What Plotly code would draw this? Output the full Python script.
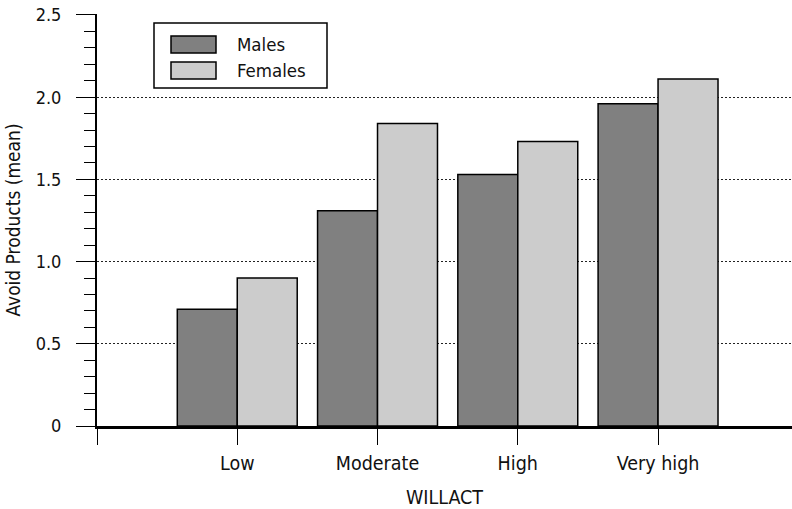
import plotly.graph_objects as go

# ---- data ----
categories = ["Low", "Moderate", "High", "Very high"]
series_names = ["Males", "Females"]
males = [0.71, 1.31, 1.53, 1.96]
females = [0.90, 1.84, 1.73, 2.11]
y_tickvals = [0, 0.5, 1.0, 1.5, 2.0, 2.5]
y_ticktext = ["0", "0.5", "1.0", "1.5", "2.0", "2.5"]
x_title = "WILLACT"
y_title = "Avoid Products (mean)"

# ---- style ----
colors = ["#808080", "#cccccc"]
FONT = "Liberation Sans Narrow, Arial Narrow, DejaVu Sans Condensed, sans-serif"
W, H = 792, 509
# pixel plot box: x 97..792, y 14..426
L, R = 97, 0
T = 14
B = H - 426
PW, PH = W - L - R, H - T - B


def px_x(px):
    return (px - L) / PW


def px_y(py):
    return (H - B - py) / PH


x_pos = list(range(len(categories)))

fig = go.Figure()
for name, vals, col in zip(series_names, [males, females], colors):
    fig.add_trace(go.Bar(
        x=x_pos, y=vals, name=name,
        marker=dict(color=col, line=dict(color="black", width=1.5)),
        showlegend=False,
    ))

fig.update_layout(
    width=W, height=H,
    margin=dict(l=L, r=R, t=T, b=B, autoexpand=False),
    paper_bgcolor="white", plot_bgcolor="white",
    barmode="group", bargap=0.145, bargroupgap=0,
    font=dict(family=FONT, size=19, color="#111111"),
)

fig.update_xaxes(
    range=[-1, 3.955],
    tickvals=[-1] + x_pos, ticktext=[""] + categories,
    ticks="outside", ticklen=16, tickwidth=1.2, tickcolor="black",
    showline=True, linecolor="black", linewidth=2.5,
    showgrid=False, zeroline=False,
    ticklabelstandoff=2,
    tickfont=dict(size=19.5),
    title=dict(text=x_title, standoff=18, font=dict(size=19.5)),
)

fig.update_yaxes(
    range=[0, 2.506],
    tickvals=y_tickvals, ticktext=y_ticktext,
    ticks="outside", ticklen=19, tickwidth=1.2, tickcolor="black",
    showline=True, linecolor="black", linewidth=2,
    showgrid=True, gridcolor="#222222", griddash="2px,2px", gridwidth=1.4,
    zeroline=False,
    minor=dict(dtick=0.1, ticks="outside", ticklen=11, tickcolor="black",
               tickwidth=1.2, showgrid=False),
    ticklabelstandoff=11,
    ticklabeloverflow="allow",
    tickfont=dict(size=18),
    title=dict(text=y_title, standoff=10, font=dict(size=19)),
)

# ---- legend drawn as a box with swatches ----
shapes = [dict(type="rect", xref="paper", yref="paper",
               x0=px_x(154), x1=px_x(327), y0=px_y(88), y1=px_y(23),
               line=dict(color="black", width=1.5), fillcolor="white")]
annotations = []
for i, (name, col) in enumerate(zip(series_names, colors)):
    top = 36 + i * 26
    shapes.append(dict(type="rect", xref="paper", yref="paper",
                       x0=px_x(171), x1=px_x(216), y0=px_y(top + 17), y1=px_y(top),
                       line=dict(color="black", width=1.5), fillcolor=col))
    annotations.append(dict(xref="paper", yref="paper", x=px_x(235), y=px_y(top + 8.5),
                            text=name, showarrow=False, xanchor="left", yanchor="middle",
                            font=dict(family=FONT, size=18.5, color="#111111")))
fig.update_layout(shapes=shapes, annotations=annotations)

fig.write_html("out.html",
               config={"displayModeBar": False},
               post_script="document.body.style.margin='0';document.body.style.padding='0';")
